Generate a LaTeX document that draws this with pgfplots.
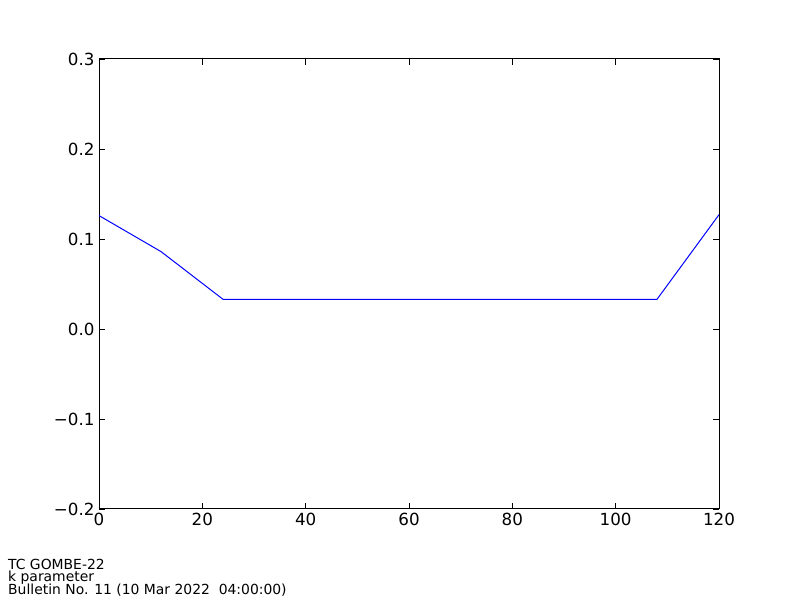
\documentclass[border=0pt]{standalone}
\usepackage{fontspec}
\setmainfont{DejaVu Sans}
\usepackage{pgfplots}
\pgfplotsset{compat=1.18}
\begin{document}
\begin{tikzpicture}[x=1bp,y=1bp]
\path[use as bounding box] (0,0) rectangle (800,600);
\begin{axis}[
  at={(99bp,91bp)}, anchor=south west,
  scale only axis, width=620bp, height=450bp,
  xmin=0, xmax=120, ymin=-0.2, ymax=0.3,
  xtick={0,20,40,60,80,100,120},
  xticklabels={0,20,40,60,80,100,120},
  ytick={-0.2,-0.1,0,0.1,0.2,0.3},
  yticklabels={−0.2,−0.1,0.0,0.1,0.2,0.3},
  tick pos=both, tick align=inside,
  major tick length=5.6bp,
  tick style={black, line width=0.8bp},
  axis line style={black, line width=1bp},
  ticklabel style={font=\fontsize{16.7bp}{20bp}\selectfont},
  xticklabel style={yshift=-1bp},
  yticklabel style={xshift=-1bp},
  clip=false,
]
\addplot[color={rgb,255:red,0;green,0;blue,255}, line width=1bp] coordinates {
(0,0.126) (12,0.086) (24,0.033) (108,0.033) (120,0.127)
};
\end{axis}
\node[anchor=base west, inner sep=0pt, font=\fontsize{13.9bp}{14bp}\selectfont] at (8,30) {TC GOMBE-22};
\node[anchor=base west, inner sep=0pt, font=\fontsize{13.9bp}{14bp}\selectfont] at (8,18) {k parameter};
\node[anchor=base west, inner sep=0pt, font=\fontsize{13.9bp}{14bp}\selectfont] at (8,5.5) {Bulletin No. 11 (10 Mar 2022\ \ 04:00:00)};
\end{tikzpicture}
\end{document}
